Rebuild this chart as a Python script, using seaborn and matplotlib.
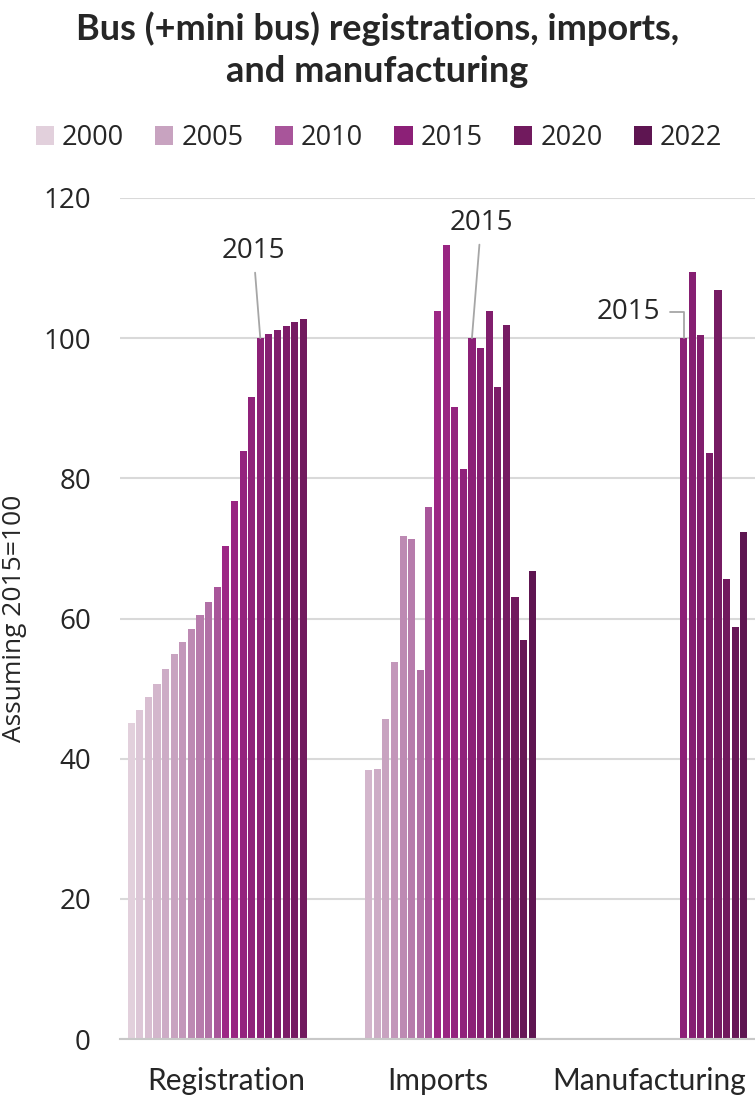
import numpy as np
import pandas as pd
import matplotlib
matplotlib.use("Agg")
import matplotlib.pyplot as plt
import seaborn as sns
from matplotlib.patches import Patch
from matplotlib.colors import LinearSegmentedColormap, to_hex

# ---------------- data ----------------
categories = ["Registration", "Imports", "Manufacturing"]
years = list(range(2000, 2023))

registration_years = list(range(2000, 2021))
registration_values = [45.1, 46.9, 48.8, 50.6, 52.8, 54.9, 56.7, 58.5, 60.5, 62.4,
                       64.5, 70.4, 76.8, 83.9, 91.6, 100.0, 100.6, 101.1, 101.7,
                       102.3, 102.8]

imports_years = list(range(2003, 2023))
imports_values = [38.4, 38.5, 45.7, 53.8, 71.7, 71.3, 52.6, 75.9, 103.9, 113.3,
                  90.2, 81.3, 100.0, 98.6, 103.9, 93.0, 101.9, 63.0, 57.0, 66.8]

manufacturing_years = list(range(2015, 2023))
manufacturing_values = [100.0, 109.4, 100.4, 83.6, 106.9, 65.7, 58.8, 72.4]

legend_years = [2000, 2005, 2010, 2015, 2020, 2022]
y_ticks = [0, 20, 40, 60, 80, 100, 120]
title = "Bus (+mini bus) registrations, imports,\nand manufacturing"
y_label = "Assuming 2015=100"
highlight_year = 2015

# ---------------- colours ----------------
anchor_years = [2000, 2005, 2009, 2010, 2011, 2015, 2020, 2022]
anchor_cols = ["#e2d0dc", "#c8a3c0", "#b170a6", "#a8559a", "#9d2785",
               "#8c2077", "#711a5e", "#5e1551"]
cmap = LinearSegmentedColormap.from_list(
    "bus", [((y - 2000) / 22, c) for y, c in zip(anchor_years, anchor_cols)])
palette = {y: to_hex(cmap((y - 2000) / 22)) for y in years}

# ---------------- frame ----------------
rows = []
for cat, ys, vs in [("Registration", registration_years, registration_values),
                    ("Imports", imports_years, imports_values),
                    ("Manufacturing", manufacturing_years, manufacturing_values)]:
    for y, v in zip(ys, vs):
        rows.append({"category": cat, "year": y, "value": v})
df = pd.DataFrame(rows)

sns.set_style("white")
body = ["Lato", "DejaVu Sans"]
wide = ["Open Sans", "DejaVu Sans"]
txt_col = "#262626"

fig = plt.figure(figsize=(7.55, 10.98), dpi=100)
ax = fig.add_axes([0.159, 0.0537, 0.841, 0.766])

group_width = 0.935
sns.barplot(data=df, x="category", y="value", hue="year", order=categories,
            hue_order=years, palette=palette, width=group_width, gap=0.17,
            dodge=True, legend=False, ax=ax, edgecolor="none", saturation=1)

ax.set_xlim(-0.5, 2.5)
ax.set_ylim(0, 120)
ax.set_yticks(y_ticks)
ax.set_yticklabels([str(t) for t in y_ticks], fontsize=20, color=txt_col,
                   family=wide)
ax.tick_params(axis="y", length=0, pad=21)
ax.tick_params(axis="x", length=0, pad=20)
ax.set_xticks(range(len(categories)))
ax.set_xticklabels(categories, fontsize=21.5, color=txt_col, family=body)
ax.set_xlabel("")
ax.set_ylabel(y_label, fontsize=19, color=txt_col, family=wide)
ax.yaxis.set_label_coords(-0.146, 0.5)
ax.yaxis.grid(True, color="#d9d9d9", linewidth=1.5)
ax.set_axisbelow(True)
for s in ["top", "right", "left"]:
    ax.spines[s].set_visible(False)
ax.spines["bottom"].set_color("#c8c8c8")
ax.spines["bottom"].set_linewidth(1.5)

# ---------------- annotations ----------------
slot = group_width / len(years)
hi = years.index(highlight_year)
off = -group_width / 2 + (hi + 0.5) * slot
lookup = df.set_index(["category", "year"])["value"]
ann_style = dict(fontsize=20, color=txt_col, family=wide)
line = dict(arrowstyle="-", color="#a6a6a6", lw=1.3, shrinkA=3, shrinkB=0)

x0 = 0 + off
ax.annotate(str(highlight_year), xy=(x0, lookup[("Registration", highlight_year)]),
            xytext=(0.13, 112.4), ha="center", va="center",
            arrowprops=line, **ann_style)
x1 = 1 + off
ax.annotate(str(highlight_year), xy=(x1, lookup[("Imports", highlight_year)]),
            xytext=(1.206, 116.4), ha="center", va="center",
            arrowprops=line, **ann_style)
x2 = 2 + off
ax.annotate(str(highlight_year), xy=(x2, lookup[("Manufacturing", highlight_year)]),
            xytext=(1.9, 103.7), ha="center", va="center",
            arrowprops=dict(line, connectionstyle="angle,angleA=0,angleB=90,rad=0",
                            shrinkA=5),
            **ann_style)

# ---------------- legend ----------------
handles = [Patch(facecolor=palette[y], edgecolor="none") for y in legend_years]
fig.legend(handles, [str(y) for y in legend_years], loc="center",
           bbox_to_anchor=(0.502, 1 - 138 / 1098), ncol=6, frameon=False,
           prop={"family": wide, "size": 19.5}, handlelength=0.67,
           handleheight=0.67, handletextpad=0.3, columnspacing=1.15,
           labelcolor=txt_col)

fig.suptitle(title, y=0.99, va="top", fontsize=26, fontweight="bold",
             family=body, color=txt_col, linespacing=1.35)

fig.savefig("out.png", dpi=100)
